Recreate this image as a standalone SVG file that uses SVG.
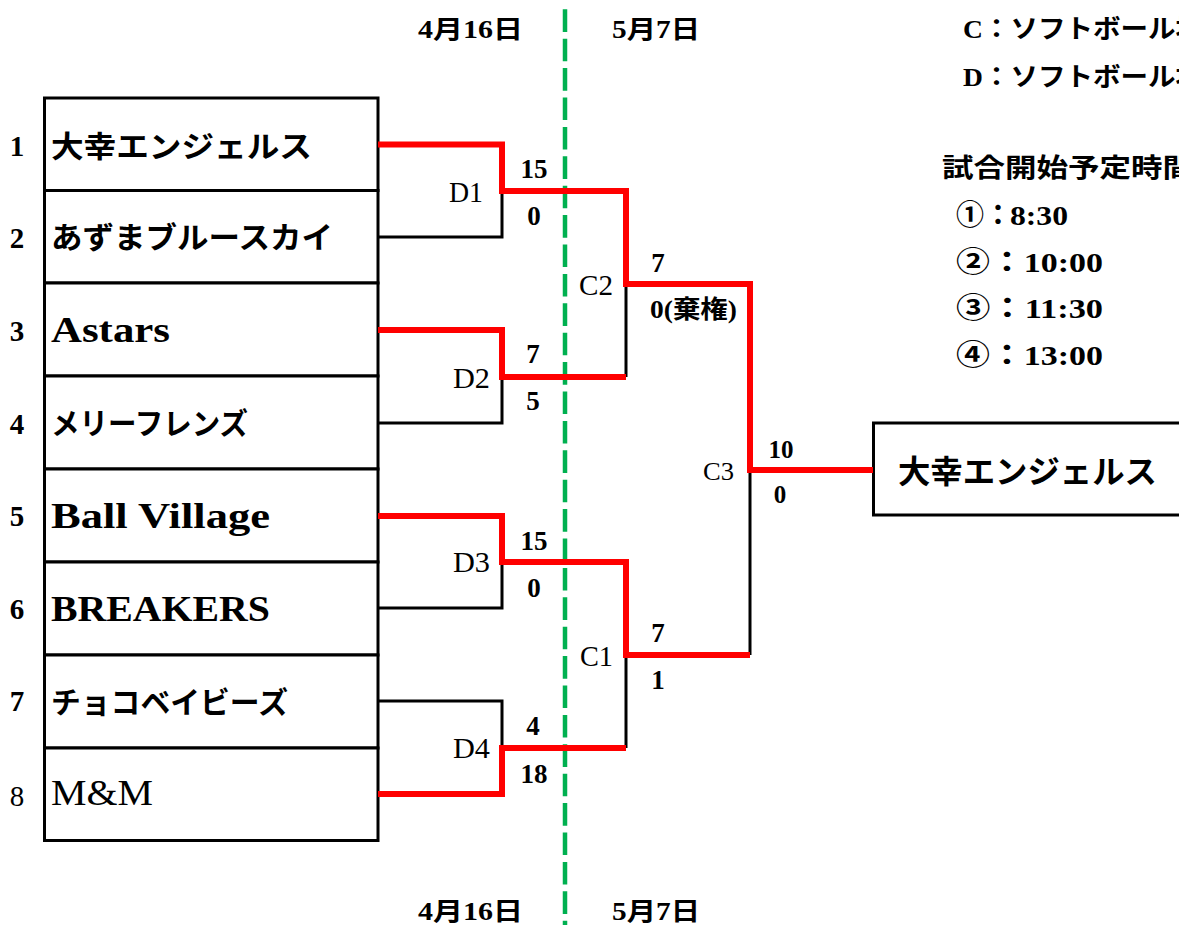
<svg xmlns="http://www.w3.org/2000/svg" width="1179" height="925" viewBox="0 0 1179 925">
<style>
text{font-family:"Liberation Serif","Noto Sans CJK JP",serif;fill:#000}
.num{font-size:29px;font-weight:bold;text-anchor:middle}
.team{font-size:30px;font-weight:bold}
.lat{font-size:35px}
.score{font-size:27px;font-weight:bold;text-anchor:middle}
.lbl{font-size:30px}
.date{font-size:25px;font-weight:bold}
.info{font-size:26px;font-weight:bold;white-space:pre}
.time{font-size:28px;font-weight:bold}
.box{fill:#fff;stroke:#000;stroke-width:3}
.blk{fill:none;stroke:#000;stroke-width:3}
.red{fill:none;stroke:#ff0000;stroke-width:6;stroke-linejoin:miter}
.green{stroke:#00b050;stroke-width:4.5;stroke-dasharray:22.6 6.8}
</style>
<rect width="1179" height="925" fill="#fff"/>
<line class="green" x1="565" y1="9.3" x2="565" y2="925"/>
<g id="dates">
<text class="date" x="418" y="38" textLength="105" lengthAdjust="spacingAndGlyphs">4月16日</text>
<text class="date" x="612" y="38" textLength="88" lengthAdjust="spacingAndGlyphs">5月7日</text>
<text class="date" x="418" y="920" textLength="105" lengthAdjust="spacingAndGlyphs">4月16日</text>
<text class="date" x="612" y="920" textLength="88" lengthAdjust="spacingAndGlyphs">5月7日</text>
</g>
<g id="legend">
<text class="info" x="963" y="38" textLength="240" lengthAdjust="spacingAndGlyphs">C：ソフトボール場</text>
<text class="info" x="963" y="86" textLength="240" lengthAdjust="spacingAndGlyphs">D：ソフトボール場</text>
<text class="info" x="942" y="177" textLength="252" lengthAdjust="spacingAndGlyphs">試合開始予定時間</text>
<text class="time" x="956" y="225">①：<tspan x="1010" textLength="58" lengthAdjust="spacingAndGlyphs">8:30</tspan></text>
<text class="time" x="956" y="272" textLength="147" lengthAdjust="spacingAndGlyphs">②：10:00</text>
<text class="time" x="956" y="318" textLength="147" lengthAdjust="spacingAndGlyphs">③：11:30</text>
<text class="time" x="956" y="365" textLength="147" lengthAdjust="spacingAndGlyphs">④：13:00</text>
</g>
<g id="team1"><rect class="box" x="44.5" y="98" width="333.5" height="92.5"/><text class="num" x="17" y="156">1</text><text class="team" x="51" y="157" textLength="261" lengthAdjust="spacingAndGlyphs">大幸エンジェルス</text></g>
<g id="team2"><rect class="box" x="44.5" y="190.5" width="333.5" height="92.5"/><text class="num" x="17" y="248">2</text><text class="team" x="51" y="248" textLength="282" lengthAdjust="spacingAndGlyphs">あずまブルースカイ</text></g>
<g id="team3"><rect class="box" x="44.5" y="283" width="333.5" height="93"/><text class="num" x="17" y="341">3</text><text class="team lat" x="51" y="342" textLength="119" lengthAdjust="spacingAndGlyphs">Astars</text></g>
<g id="team4"><rect class="box" x="44.5" y="376" width="333.5" height="93"/><text class="num" x="17" y="434">4</text><text class="team" x="51" y="434" textLength="197" lengthAdjust="spacingAndGlyphs">メリーフレンズ</text></g>
<g id="team5"><rect class="box" x="44.5" y="469" width="333.5" height="93"/><text class="num" x="17" y="526">5</text><text class="team lat" x="51" y="528" textLength="219" lengthAdjust="spacingAndGlyphs">Ball Village</text></g>
<g id="team6"><rect class="box" x="44.5" y="562" width="333.5" height="93"/><text class="num" x="17" y="619">6</text><text class="team lat" x="51" y="621" textLength="219" lengthAdjust="spacingAndGlyphs">BREAKERS</text></g>
<g id="team7"><rect class="box" x="44.5" y="655" width="333.5" height="93"/><text class="num" x="17" y="711">7</text><text class="team" x="51" y="713" textLength="237" lengthAdjust="spacingAndGlyphs">チョコベイビーズ</text></g>
<g id="team8"><rect class="box" x="44.5" y="748" width="333.5" height="92.5"/><text class="num" x="17" y="806" style="font-weight:normal">8</text><text class="team lat" x="51" y="805" style="font-weight:normal" textLength="102" lengthAdjust="spacingAndGlyphs">M&amp;M</text></g>
<g id="winner"><rect class="box" x="873.5" y="423" width="320" height="92"/><text class="team" x="898" y="483" style="font-size:32px" textLength="259" lengthAdjust="spacingAndGlyphs">大幸エンジェルス</text></g>
<g id="connectors">
<path class="blk" d="M378,237 H502 V191"/>
<path class="blk" d="M378,423 H502 V377"/>
<path class="blk" d="M378,608 H502 V562"/>
<path class="blk" d="M378,701 H502 V748"/>
<path class="blk" d="M626,284 V377"/>
<path class="blk" d="M626,655 V748"/>
<path class="blk" d="M750,470 V655"/>
<path class="red" d="M378,144.5 H502 V191 H626 V284 H750 V470 H873"/>
<path class="red" d="M378,330 H502 V377 H626"/>
<path class="red" d="M378,516 H502 V562 H626 V655 H750"/>
<path class="red" d="M378,794 H502 V748 H626"/>
</g>
<g id="labels">
<text class="lbl" x="449" y="202" textLength="34" lengthAdjust="spacingAndGlyphs">D1</text>
<text class="lbl" x="453" y="388" textLength="37" lengthAdjust="spacingAndGlyphs">D2</text>
<text class="lbl" x="453" y="572" textLength="37" lengthAdjust="spacingAndGlyphs">D3</text>
<text class="lbl" x="453" y="758" textLength="37" lengthAdjust="spacingAndGlyphs">D4</text>
<text class="lbl" x="579" y="295" textLength="34" lengthAdjust="spacingAndGlyphs">C2</text>
<text class="lbl" x="580" y="666" textLength="33" lengthAdjust="spacingAndGlyphs">C1</text>
<text class="lbl" x="703" y="480" style="font-size:25px" textLength="31" lengthAdjust="spacingAndGlyphs">C3</text>
</g>
<g id="scores">
<text class="score" x="534" y="178">15</text>
<text class="score" x="534" y="225">0</text>
<text class="score" x="533" y="363">7</text>
<text class="score" x="533" y="410">5</text>
<text class="score" x="534" y="550">15</text>
<text class="score" x="534" y="597">0</text>
<text class="score" x="533" y="735">4</text>
<text class="score" x="534" y="783">18</text>
<text class="score" x="658" y="272">7</text>
<text class="score" x="650" y="318" style="text-anchor:start;font-size:25px" textLength="87" lengthAdjust="spacingAndGlyphs">0(棄権)</text>
<text class="score" x="658" y="642">7</text>
<text class="score" x="658" y="689">1</text>
<text class="score" x="781" y="458" style="font-size:25px">10</text>
<text class="score" x="780" y="503" style="font-size:25px">0</text>
</g>
</svg>
